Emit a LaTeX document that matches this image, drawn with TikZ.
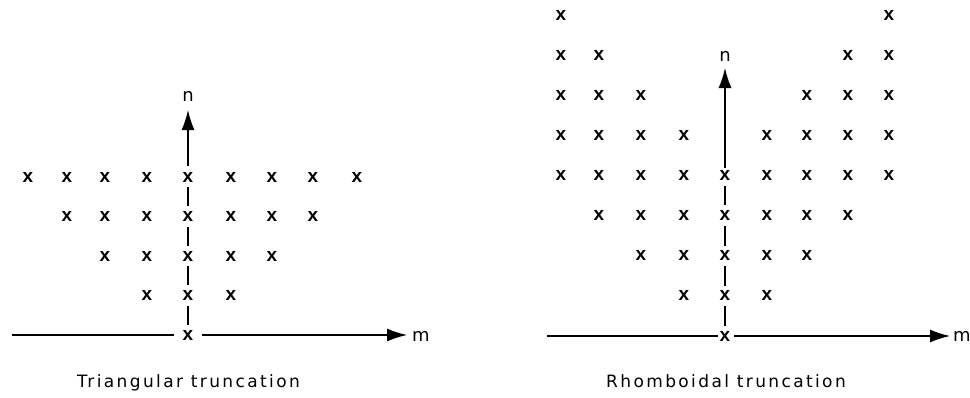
\documentclass[tikz,border=0pt]{standalone}
\usepackage{fontspec}
\setmainfont{DejaVu Sans}
\newfontfamily\xfont{Liberation Sans}
\newfontfamily\labfont[LetterSpace=14]{DejaVu Sans}
\usetikzlibrary{arrows.meta}
\begin{document}
\begin{tikzpicture}[x=1pt,y=-1pt,
  xm/.style={inner sep=1pt, font={\fontsize{19}{19}\selectfont\xfont\bfseries}},
  seg/.style={line width=1.1pt, shorten <=4pt, shorten >=4pt},
  axisline/.style={line width=1.4pt},
  arr/.style={axisline, -{Latex[length=20pt,width=13pt]}},
  axlab/.style={inner sep=0pt, font={\fontsize{18}{18}\selectfont}},
  caption/.style={inner sep=0pt, anchor=base, font={\fontsize{17}{17}\selectfont\labfont}}]
\fill[white] (0,0) rectangle (970,397);
\useasboundingbox (0,0) rectangle (970,397);
% ---- left: triangular ----
\foreach \xx [count=\i from 0] in {28,67,105,147,188,231,272,313,357}{
  \foreach \r in {0,...,4}{
    \pgfmathtruncatemacro\ac{abs(\i-4)}
    \ifnum\ac>\r\relax\else
      \node[xm] (L\i-\r) at (\xx,{335-39.5*\r}) {x};
    \fi
  }
}
\foreach \r in {0,...,3}{
  \pgfmathtruncatemacro\rr{\r+1}
  \draw[seg] (L4-\r) -- (L4-\rr);
}
\coordinate (Ltip) at (188,110);
\draw[arr, shorten <=5pt] (L4-4) -- (Ltip);
\node[axlab] (Ln) at (188,96) {n};
\coordinate (Lstart) at (12,335);
\coordinate (Lend) at (407,335);
\draw[axisline, shorten >=8pt] (Lstart) -- (L4-0);
\draw[arr, shorten <=8pt] (L4-0) -- (Lend);
\node[axlab] (Lm) at (421,336) {m};
\node[caption] (Lcap) at (188.5,387) {Triangular truncation};
% ---- right: rhomboidal ----
\foreach \xx [count=\i from 0] in {561,599,641,684,725,767,807,848,889}{
  \foreach \r in {0,...,8}{
    \pgfmathtruncatemacro\ac{abs(\i-4)}
    \pgfmathtruncatemacro\lo{max(0,\r-4)}
    \pgfmathtruncatemacro\ok{(\ac<=\r)&&(\ac>=\lo)}
    \ifnum\ok=1\relax
      \node[xm] (R\i-\r) at (\xx,{336-40.1*\r}) {x};
    \fi
  }
}
\foreach \r in {0,...,3}{
  \pgfmathtruncatemacro\rr{\r+1}
  \draw[seg] (R4-\r) -- (R4-\rr);
}
\coordinate (Rtip) at (725,68);
\draw[arr, shorten <=1pt] (R4-4) -- (Rtip);
\node[axlab] (Rn) at (725,56) {n};
\coordinate (Rstart) at (547,336);
\coordinate (Rend) at (950,336);
\draw[axisline, shorten >=0.5pt] (Rstart) -- (R4-0);
\draw[arr, shorten <=3pt] (R4-0) -- (Rend);
\node[axlab] (Rm) at (962,336) {m};
\node[caption] (Rcap) at (726,387) {Rhomboidal truncation};
\end{tikzpicture}
\end{document}
